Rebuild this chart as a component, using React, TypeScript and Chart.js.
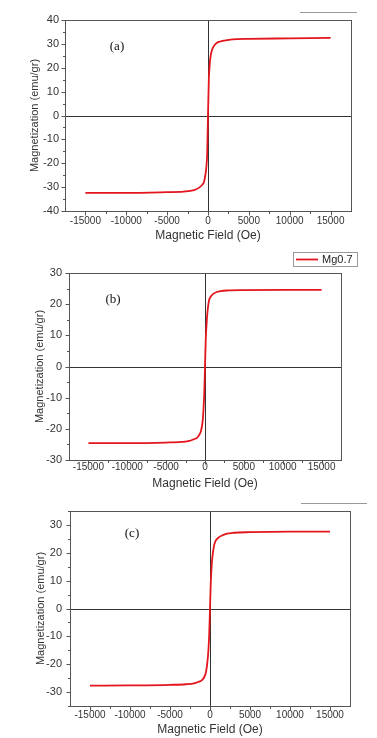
import React, { useEffect, useRef } from 'react';
import { Chart, registerables } from 'chart.js';

Chart.register(...registerables);

// ---- Data ----
const fieldOe = [
  -15000, -10000, -5000, -3000, -2000, -1500, -1000, -700, -500, -300, -200, -100, 0,
  100, 200, 300, 500, 700, 1000, 1500, 2000, 3000, 5000, 10000, 15000,
];
const magnetizationA = [
  -32.4, -32.4, -32.1, -31.9, -31.5, -31.0, -30.0, -29.0, -28.0, -24.5, -21.5, -16, 0,
  15, 21, 24.5, 27.5, 29.0, 30.2, 31.0, 31.4, 31.9, 32.1, 32.3, 32.5,
];
const magnetizationB = [
  -24.6, -24.6, -24.4, -24.2, -23.9, -23.4, -22.8, -21.8, -20.5, -17.5, -14.0, -9.0, 0,
  9.0, 13.5, 17.0, 21.0, 22.3, 23.2, 23.9, 24.2, 24.4, 24.5, 24.6, 24.6,
];
const magnetizationC = [
  -27.7, -27.6, -27.4, -27.2, -26.9, -26.4, -25.7, -24.5, -22.8, -18.5, -15.0, -9.5, 0,
  9.5, 15.0, 18.5, 22.5, 24.3, 25.3, 26.2, 26.8, 27.2, 27.4, 27.6, 27.6,
];
const fieldTicks = [-15000, -10000, -5000, 0, 5000, 10000, 15000];
const fieldMinorTicks = [-12500, -7500, -2500, 2500, 7500, 12500];
const magTicksA = [-40, -30, -20, -10, 0, 10, 20, 30, 40];
const magMinorTicksA = [-35, -25, -15, -5, 5, 15, 25, 35];
const magTicksB = [-30, -20, -10, 0, 10, 20, 30];
const magMinorTicksB = [-25, -15, -5, 5, 15, 25];
const magTicksC = [-30, -20, -10, 0, 10, 20, 30];
const magMinorTicksC = [-35, -25, -15, -5, 5, 15, 25, 35];
const panelLabels = ['(a)', '(b)', '(c)'];
const seriesName = 'Mg0.7';
const xTitle = 'Magnetic Field (Oe)';
const yTitle = 'Magnetization (emu/gr)';

// ---- Layout / style ----
const W = 377;
const RED = '#e3151d';
const SANS = '"Liberation Sans", Arial, Helvetica, sans-serif';
const SERIF = '"Liberation Serif", "Times New Roman", serif';

const PANELS = [
  {
    top: 0, height: 245, area: { l: 65, r: 351, t: 20, b: 211 },
    yMin: -40, yMax: 40, yTicks: magTicksA, yMinor: magMinorTicksA, values: magnetizationA,
    label: panelLabels[0], labelPos: { x: 117, y: 47 },
    fragment: { x1: 300, x2: 357, y: 12 }, legend: null as any,
    yTickPad: 6, xTickPad: 4, yTitleX: 35, xTitleY: 236,
  },
  {
    top: 245, height: 247, area: { l: 69, r: 341, t: 28, b: 215 },
    yMin: -30, yMax: 30, yTicks: magTicksB, yMinor: magMinorTicksB, values: magnetizationB,
    label: panelLabels[1], labelPos: { x: 113, y: 55 },
    fragment: null as any, legend: { x: 293, y: 7, w: 64, h: 14 },
    yTickPad: 7, xTickPad: 1, yTitleX: 40, xTitleY: 239,
  },
  {
    top: 490, height: 248, area: { l: 70, r: 350, t: 21, b: 216 },
    yMin: -35, yMax: 35, yTicks: magTicksC, yMinor: magMinorTicksC, values: magnetizationC,
    label: panelLabels[2], labelPos: { x: 132, y: 44 },
    fragment: { x1: 301, x2: 367, y: 13 }, legend: null as any,
    yTickPad: 8, xTickPad: 3, yTitleX: 41, xTitleY: 239.5,
  },
];

type PanelDef = (typeof PANELS)[number];

function makeDecor(p: PanelDef) {
  return {
    id: 'decor',
    beforeDatasetsDraw(chart: any) {
      const { ctx, chartArea: a, scales } = chart;
      const x0 = Math.round(scales.x.getPixelForValue(0)) + 0.5;
      const y0 = Math.round(scales.y.getPixelForValue(0)) + 0.5;
      ctx.save();
      ctx.strokeStyle = '#333';
      ctx.lineWidth = 1;
      ctx.beginPath();
      ctx.moveTo(x0, a.top);
      ctx.lineTo(x0, a.bottom);
      ctx.moveTo(a.left, y0);
      ctx.lineTo(a.right, y0);
      ctx.stroke();
      ctx.restore();
    },
    afterDraw(chart: any) {
      const { ctx, chartArea: a, scales } = chart;
      ctx.save();
      ctx.strokeStyle = '#555';
      ctx.lineWidth = 1;
      const L = Math.round(a.left) + 0.5;
      const R = Math.round(a.right) + 0.5;
      const T = Math.round(a.top) + 0.5;
      const B = Math.round(a.bottom) + 0.5;
      ctx.strokeRect(L, T, R - L, B - T);
      ctx.beginPath();
      fieldTicks.forEach((v) => {
        const px = Math.round(scales.x.getPixelForValue(v)) + 0.5;
        ctx.moveTo(px, B);
        ctx.lineTo(px, B + 4);
      });
      fieldMinorTicks.forEach((v) => {
        const px = Math.round(scales.x.getPixelForValue(v)) + 0.5;
        ctx.moveTo(px, B);
        ctx.lineTo(px, B + 2.5);
      });
      p.yTicks.forEach((v) => {
        const py = Math.round(scales.y.getPixelForValue(v)) + 0.5;
        ctx.moveTo(L, py);
        ctx.lineTo(L - 4, py);
      });
      p.yMinor.forEach((v) => {
        const py = Math.round(scales.y.getPixelForValue(v)) + 0.5;
        ctx.moveTo(L, py);
        ctx.lineTo(L - 2.5, py);
      });
      ctx.stroke();

      // panel label
      ctx.fillStyle = '#111';
      ctx.font = `13px ${SERIF}`;
      ctx.textAlign = 'center';
      ctx.textBaseline = 'middle';
      ctx.fillText(p.label, p.labelPos.x, p.labelPos.y);

      // partial legend edge
      if (p.fragment) {
        ctx.strokeStyle = '#999';
        ctx.beginPath();
        ctx.moveTo(p.fragment.x1, p.fragment.y + 0.5);
        ctx.lineTo(p.fragment.x2, p.fragment.y + 0.5);
        ctx.stroke();
      }
      // legend
      if (p.legend) {
        const g = p.legend;
        ctx.fillStyle = '#fff';
        ctx.fillRect(g.x, g.y, g.w, g.h);
        ctx.strokeStyle = '#999';
        ctx.strokeRect(g.x + 0.5, g.y + 0.5, g.w, g.h);
        const ds = chart.data.datasets[0];
        ctx.strokeStyle = ds.borderColor;
        ctx.lineWidth = 1.8;
        ctx.beginPath();
        ctx.moveTo(g.x + 3, g.y + g.h / 2 + 0.5);
        ctx.lineTo(g.x + 25, g.y + g.h / 2 + 0.5);
        ctx.stroke();
        ctx.fillStyle = '#222';
        ctx.font = `11px ${SANS}`;
        ctx.textAlign = 'left';
        ctx.textBaseline = 'middle';
        ctx.fillText(ds.label, g.x + 29, g.y + g.h / 2 + 1);
      }
      ctx.restore();
    },
  };
}

function Panel({ p }: { p: PanelDef }) {
  const ref = useRef<HTMLCanvasElement>(null);
  useEffect(() => {
    const canvas = ref.current!;
    const xLine = 12 * 1.2;
    const yLine = 11 * 1.2;
    const chart = new Chart(canvas, {
      type: 'line',
      data: {
        datasets: [
          {
            label: seriesName,
            data: fieldOe.map((f, i) => ({ x: f, y: p.values[i] })),
            borderColor: RED,
            backgroundColor: RED,
            borderWidth: 1.8,
            pointRadius: 0,
            cubicInterpolationMode: 'monotone',
            fill: false,
          },
        ],
      },
      options: {
        animation: false,
        responsive: false,
        maintainAspectRatio: false,
        layout: { padding: { left: 0, top: p.area.t, right: W - p.area.r, bottom: 0 } },
        plugins: { legend: { display: false }, tooltip: { enabled: false } },
        scales: {
          x: {
            type: 'linear',
            min: -17500,
            max: 17500,
            afterFit: (s: any) => {
              s.height = p.height - p.area.b;
            },
            afterBuildTicks: (s: any) => {
              s.ticks = fieldTicks.map((v) => ({ value: v }));
            },
            grid: { display: false, drawTicks: false },
            border: { display: false },
            ticks: {
              padding: p.xTickPad,
              font: { family: SANS, size: 10 },
              color: '#333',
              maxRotation: 0,
              autoSkip: false,
              callback: (v: any) => String(v),
            },
            title: {
              display: true,
              text: xTitle,
              font: { family: SANS, size: 12 },
              color: '#333',
              padding: { top: 0, bottom: p.height - p.xTitleY - xLine / 2 },
            },
          },
          y: {
            type: 'linear',
            min: p.yMin,
            max: p.yMax,
            afterFit: (s: any) => {
              s.width = p.area.l;
            },
            afterBuildTicks: (s: any) => {
              s.ticks = p.yTicks.map((v) => ({ value: v }));
            },
            grid: { display: false, drawTicks: false },
            border: { display: false },
            ticks: {
              padding: p.yTickPad,
              font: { family: SANS, size: 11 },
              color: '#333',
              autoSkip: false,
              callback: (v: any) => String(v),
            },
            title: {
              display: true,
              text: yTitle,
              font: { family: SANS, size: 11 },
              color: '#333',
              padding: { top: p.yTitleX - yLine / 2, bottom: 0 },
            },
          },
        },
      } as any,
      plugins: [makeDecor(p)],
    });
    return () => chart.destroy();
  }, [p]);
  return (
    <canvas
      ref={ref}
      width={W}
      height={p.height}
      style={{ position: 'absolute', left: 0, top: p.top, width: W, height: p.height, display: 'block' }}
    />
  );
}

export default function App() {
  return (
    <div style={{ position: 'absolute', left: 0, top: 0, width: W, height: 738, background: '#fff' }}>
      {PANELS.map((p, i) => (
        <Panel key={i} p={p} />
      ))}
    </div>
  );
}
